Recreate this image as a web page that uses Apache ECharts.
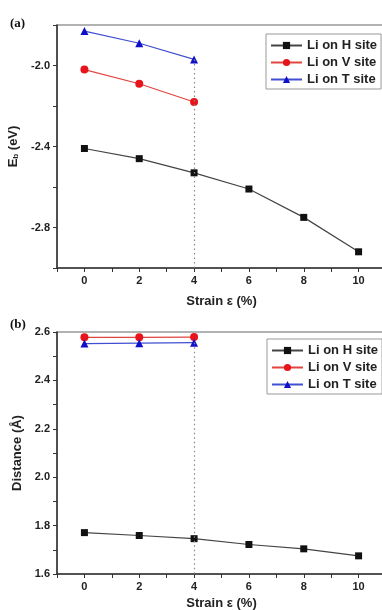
<!DOCTYPE html>
<html>
<head>
<meta charset="utf-8">
<script src="https://cdn.jsdelivr.net/npm/echarts@6/dist/echarts.min.js"></script>
<style>html,body{margin:0;padding:0;background:#fff;}#c{width:382px;height:610px;}</style>
</head>
<body>
<div id="c"></div>
<script>
var strain = [0, 2, 4, 6, 8, 10];
var strainShort = [0, 2, 4];
var ebH = [-2.41, -2.46, -2.53, -2.61, -2.75, -2.92];
var ebV = [-2.02, -2.09, -2.18];
var ebT = [-1.83, -1.89, -1.97];
var dH = [1.771, 1.759, 1.746, 1.722, 1.704, 1.675];
var dV = [2.578, 2.578, 2.579];
var dT = [2.552, 2.554, 2.556];
var ebLabels = ['-2.0', '-2.4', '-2.8'];
var dLabels = ['1.6', '1.8', '2.0', '2.2', '2.4', '2.6'];
var xLabels = ['0', '2', '4', '6', '8', '10'];
var names = ['Li on H site', 'Li on V site', 'Li on T site'];

function pairs(xs, ys) { return ys.map(function (y, i) { return [xs[i], y]; }); }

var txt = '#222';
var font = 'Liberation Sans, Arial, sans-serif';

function xAxisCfg(gi, gap) {
  return {
    type: 'value', gridIndex: gi, min: -1, max: 11, interval: 1,
    name: 'Strain \u03b5 (%)', nameLocation: 'middle', nameGap: gap,
    nameTextStyle: { fontFamily: font, fontWeight: 'bold', fontSize: 13, color: txt },
    axisLine: { onZero: false, lineStyle: { color: '#333', width: 1.5 } },
    axisTick: { show: true, inside: false, length: 4, lineStyle: { color: '#333', width: 1 } },
    axisLabel: {
      margin: 7, fontFamily: font, fontWeight: 'bold', fontSize: 11, color: txt,
      formatter: function (v) { var s = String(Math.round(v)); return xLabels.indexOf(s) >= 0 ? s : ''; }
    },
    splitLine: { show: false }
  };
}

var legendBase = {
  data: names, orient: 'vertical', width: 113,
  itemWidth: 31, itemHeight: 9, itemGap: 4, padding: [5, 4, 3, 4],
  borderColor: '#999', borderWidth: 1,
  textStyle: { fontFamily: font, fontWeight: 'bold', fontSize: 13, color: txt }
};

var option = {
  animation: false,
  backgroundColor: '#fff',
  graphic: [
    { type: 'text', left: 10, top: 17, style: { text: '(a)', font: 'bold 13px "Liberation Serif", "Times New Roman", serif', fill: '#111' } },
    { type: 'text', left: 10, top: 318, style: { text: '(b)', font: 'bold 13px "Liberation Serif", "Times New Roman", serif', fill: '#111' } }
  ],
  grid: [
    { left: 57, width: 329, top: 25, height: 243, show: true, borderColor: '#666', borderWidth: 1.2, backgroundColor: 'transparent', containLabel: false, outerBoundsMode: 'none' },
    { left: 57, width: 329, top: 332, height: 242, show: true, borderColor: '#666', borderWidth: 1.2, backgroundColor: 'transparent', containLabel: false, outerBoundsMode: 'none' }
  ],
  legend: [
    Object.assign({}, legendBase, { left: 266, top: 34 }),
    Object.assign({}, legendBase, { left: 267, top: 339 })
  ],
  xAxis: [xAxisCfg(0, 27), xAxisCfg(1, 23)],
  yAxis: [
    {
      type: 'value', gridIndex: 0, min: -3.0, max: -1.8, interval: 0.2,
      name: '{a|E}{s|b}{a| (eV)}', nameLocation: 'middle', nameGap: 36,
      nameTextStyle: {
        rich: {
          a: { fontFamily: font, fontWeight: 'bold', fontSize: 13, color: txt },
          s: { fontFamily: font, fontWeight: 'bold', fontSize: 8, color: txt, verticalAlign: 'bottom', padding: [6, 0, 0, 0] }
        }
      },
      axisLine: { show: true, onZero: false, lineStyle: { color: '#333', width: 1.5 } },
      axisTick: { show: true, inside: false, length: 4, lineStyle: { color: '#333', width: 1 } },
      axisLabel: {
        margin: 7, fontFamily: font, fontWeight: 'bold', fontSize: 11, color: txt,
        formatter: function (v) { var s = v.toFixed(1); return ebLabels.indexOf(s) >= 0 ? s : ''; }
      },
      splitLine: { show: false }
    },
    {
      type: 'value', gridIndex: 1, min: 1.6, max: 2.6, interval: 0.1,
      name: 'Distance (\u00c5)', nameLocation: 'middle', nameGap: 32,
      nameTextStyle: { fontFamily: font, fontWeight: 'bold', fontSize: 13, color: txt },
      axisLine: { show: true, onZero: false, lineStyle: { color: '#333', width: 1.5 } },
      axisTick: { show: true, inside: false, length: 4, lineStyle: { color: '#333', width: 1 } },
      axisLabel: {
        margin: 7, fontFamily: font, fontWeight: 'bold', fontSize: 11, color: txt,
        formatter: function (v) { var s = v.toFixed(1); return dLabels.indexOf(s) >= 0 ? s : ''; }
      },
      splitLine: { show: false }
    }
  ],
  series: [
    {
      name: names[0], type: 'line', xAxisIndex: 0, yAxisIndex: 0, data: pairs(strain, ebH),
      symbol: 'rect', symbolSize: 7, itemStyle: { color: '#111' }, lineStyle: { color: '#444', width: 1.2 }
    },
    {
      name: names[1], type: 'line', xAxisIndex: 0, yAxisIndex: 0, data: pairs(strainShort, ebV),
      symbol: 'circle', symbolSize: 8, itemStyle: { color: '#e8141b' }, lineStyle: { color: '#e0453f', width: 1.2 }
    },
    {
      name: names[2], type: 'line', xAxisIndex: 0, yAxisIndex: 0, data: pairs(strainShort, ebT),
      symbol: 'triangle', symbolSize: 8, itemStyle: { color: '#1010c8' }, lineStyle: { color: '#4050d0', width: 1.2 },
      markLine: {
        silent: true, symbol: 'none', label: { show: false },
        lineStyle: { color: '#888', type: [1.5, 3], width: 1.2 },
        data: [[{ coord: [strainShort[2], ebT[2]] }, { coord: [strainShort[2], -3.0] }]]
      }
    },
    {
      name: names[0], type: 'line', xAxisIndex: 1, yAxisIndex: 1, data: pairs(strain, dH),
      symbol: 'rect', symbolSize: 7, itemStyle: { color: '#111' }, lineStyle: { color: '#444', width: 1.2 }
    },
    {
      name: names[1], type: 'line', xAxisIndex: 1, yAxisIndex: 1, data: pairs(strainShort, dV),
      symbol: 'circle', symbolSize: 8, itemStyle: { color: '#e8141b' }, lineStyle: { color: '#e0453f', width: 1.2 }
    },
    {
      name: names[2], type: 'line', xAxisIndex: 1, yAxisIndex: 1, data: pairs(strainShort, dT),
      symbol: 'triangle', symbolSize: 8, itemStyle: { color: '#1010c8' }, lineStyle: { color: '#4050d0', width: 1.2 },
      markLine: {
        silent: true, symbol: 'none', label: { show: false },
        lineStyle: { color: '#888', type: [1.5, 3], width: 1.2 },
        data: [[{ coord: [strainShort[2], dT[2]] }, { coord: [strainShort[2], 1.6] }]]
      }
    }
  ]
};

var chart = echarts.init(document.getElementById('c'), null, { renderer: 'canvas' });
chart.setOption(option);
</script>
</body>
</html>
